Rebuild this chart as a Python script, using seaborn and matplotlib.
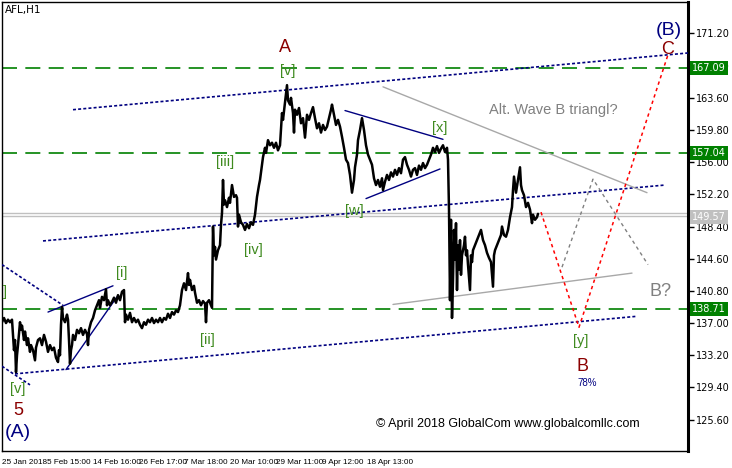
import matplotlib
matplotlib.use("Agg")
import matplotlib.pyplot as plt
import matplotlib.transforms as mtransforms
import pandas as pd
import seaborn as sns

# price path (bar position, close)
bar_x = [2, 4, 6, 8, 10, 12, 13, 14, 15, 16, 17, 18, 20, 21, 22, 24, 25, 27, 28, 30,
         31, 33, 35, 36, 38, 40, 42, 44, 46, 48, 50, 52, 54, 56, 58, 59, 60, 61, 62, 63,
         65, 67, 68, 69, 70, 71, 72, 73, 75, 77, 79, 81, 83, 85, 87, 88, 89, 91, 93, 95,
         97, 99, 100, 102, 104, 106, 107, 108, 110, 112, 114, 116, 118, 120, 122, 124, 125, 126, 128, 130,
         132, 134, 136, 138, 140, 142, 144, 146, 148, 150, 152, 154, 156, 158, 160, 162, 164, 166, 168, 170,
         172, 174, 176, 178, 180, 182, 184, 186, 188, 189, 190, 192, 194, 195, 197, 199, 201, 203, 205, 206,
         207, 209, 211, 212, 213, 214, 215, 216, 218, 220, 221, 222, 223, 224, 225, 227, 229, 230, 232, 234,
         236, 237, 238, 239, 241, 243, 245, 247, 249, 251, 253, 255, 257, 259, 260, 262, 263, 265, 266, 268,
         270, 272, 274, 276, 278, 280, 282, 283, 285, 287, 288, 290, 291, 293, 294, 295, 297, 299, 301, 303,
         305, 307, 309, 311, 313, 315, 317, 319, 321, 323, 325, 327, 329, 331, 332, 334, 336, 338, 340, 342,
         344, 346, 348, 350, 352, 354, 355, 357, 358, 360, 362, 364, 366, 368, 370, 372, 374, 376, 378, 380,
         382, 383, 385, 387, 389, 391, 393, 395, 397, 399, 401, 403, 405, 407, 409, 411, 413, 415, 417, 419,
         421, 423, 425, 427, 429, 431, 433, 435, 437, 439, 441, 443, 445, 447, 448, 449, 450, 451, 452, 453,
         454, 455, 456, 457, 458, 459, 460, 461, 462, 464, 465, 466, 467, 468, 470, 471, 472, 473, 475, 477,
         479, 481, 483, 485, 487, 489, 491, 493, 494, 495, 497, 499, 501, 502, 504, 506, 508, 510, 512, 513,
         514, 516, 518, 520, 521, 522, 524, 526, 528, 530, 532, 533, 535, 537, 538]
close = [137.1, 137.6, 137.0, 137.4, 137.1, 137.4, 135.6, 133.8, 135.0, 131.2, 133.2, 134.4, 137.1, 136.2, 136.7, 135.0, 136.0, 134.4, 135.2, 133.6,
         134.4, 133.8, 132.6, 134.1, 135.0, 135.2, 134.4, 135.6, 134.8, 133.6, 134.4, 133.8, 134.1, 132.9, 132.4, 133.8, 133.2, 136.8, 138.9, 137.6,
         137.1, 138.0, 137.4, 135.0, 132.2, 133.8, 134.4, 135.6, 135.0, 136.2, 135.8, 136.4, 135.6, 136.2, 135.7, 134.4, 136.2, 137.1, 137.6, 138.5,
         139.1, 139.7, 138.8, 140.1, 139.7, 141.0, 139.1, 139.7, 139.1, 139.5, 140.0, 139.4, 140.3, 139.7, 140.7, 140.9, 137.1, 138.0, 137.4, 138.2,
         137.1, 137.6, 137.1, 137.4, 136.8, 136.4, 137.1, 136.8, 137.4, 137.1, 137.6, 137.0, 137.4, 137.1, 137.6, 137.1, 137.6, 137.4, 138.1, 137.6,
         138.3, 138.0, 138.5, 138.3, 139.1, 140.9, 141.7, 140.9, 142.9, 141.5, 142.1, 140.9, 141.4, 140.6, 139.4, 139.7, 139.1, 139.6, 139.3, 137.1,
         139.4, 139.7, 139.1, 138.8, 148.4, 145.0, 146.0, 144.5, 145.6, 146.2, 148.6, 150.0, 153.9, 151.0, 151.5, 150.7, 151.8, 151.2, 153.3, 151.9,
         152.1, 151.8, 148.4, 149.8, 148.9, 148.6, 148.0, 148.7, 148.2, 148.9, 148.6, 149.8, 151.9, 153.3, 153.9, 155.7, 156.6, 157.7, 157.1, 158.6,
         158.0, 158.3, 157.7, 158.3, 157.4, 158.0, 161.8, 161.0, 163.0, 165.1, 163.3, 162.8, 163.6, 161.8, 159.5, 162.2, 161.6, 162.4, 160.6, 161.2,
         158.9, 161.6, 161.0, 161.8, 162.5, 161.2, 160.0, 160.6, 159.5, 160.4, 159.8, 160.2, 161.2, 162.2, 162.8, 161.6, 160.4, 161.0, 160.2, 159.0,
         157.7, 156.3, 155.9, 154.5, 152.4, 153.9, 155.4, 156.9, 158.6, 159.8, 161.2, 159.8, 158.0, 156.9, 156.3, 155.7, 154.1, 153.3, 153.9, 153.1,
         154.1, 152.7, 153.7, 154.5, 153.9, 154.8, 154.3, 155.1, 154.5, 155.3, 154.7, 156.3, 156.6, 155.7, 155.1, 154.3, 155.1, 155.3, 154.5, 155.6,
         155.1, 155.9, 155.3, 155.7, 156.3, 156.9, 157.7, 157.2, 157.9, 157.1, 157.6, 158.0, 157.2, 157.7, 156.3, 150.4, 139.7, 149.2, 137.6, 142.1,
         148.0, 144.5, 148.8, 140.9, 146.2, 143.3, 146.8, 142.7, 145.0, 146.2, 147.2, 145.0, 145.6, 143.9, 140.9, 145.0, 144.2, 145.6, 146.2, 146.8,
         147.4, 148.0, 146.8, 146.2, 145.3, 144.7, 144.2, 141.3, 145.0, 145.6, 146.2, 146.8, 147.4, 148.4, 147.4, 147.2, 148.0, 149.5, 150.7, 152.7,
         154.3, 152.4, 153.9, 155.4, 153.3, 152.7, 152.1, 150.7, 151.2, 150.4, 148.8, 149.8, 149.2, 149.5, 149.9]

# horizontal levels
level_prices = [167.09, 157.04, 138.71]
bid_ask = [150.0, 149.6]
last_price = 149.57

# axis ticks
price_ticks = [171.20, 167.40, 163.60, 159.80, 156.00, 152.20, 148.40,
               144.60, 140.80, 137.00, 133.20, 129.40, 125.60]
time_ticks = [2, 47, 93, 139, 184, 230, 276, 322, 367]
time_labels = ["25 Jan 2018", "5 Feb 15:00", "14 Feb 16:00", "26 Feb 17:00", "7 Mar 18:00",
               "20 Mar 10:00", "29 Mar 11:00", "9 Apr 12:00", "18 Apr 13:00"]

# trend lines: (x list, price list)
channel_upper = ([73, 688], [162.2, 168.9])
channel_mid = ([43, 665], [146.7, 153.3])
channel_low = ([15, 637], [131.0, 137.8])
old_line_a = ([2, 63], [143.9, 139.1])
old_line_b = ([2, 30], [131.9, 129.7])
wedge_top = ([48, 113], [138.3, 141.4])
wedge_bot = ([66, 117], [131.5, 140.1])
tri_top = ([345, 443], [162.1, 158.7])
tri_bot = ([366, 440], [151.7, 155.2])
alt_tri_top = ([383, 647], [164.9, 152.4])
alt_tri_bot = ([393, 632], [139.2, 142.9])
alt_path = ([562, 593, 648], [143.6, 154.0, 143.9])
main_path = ([541, 579, 668], [150.1, 136.5, 168.7])

GREEN = "#008000"
NAVY = "#000080"
DRED = "#8b0000"
WAVE = "#3f8a1f"

sns.set_style("white")
plt.rcParams["font.family"] = ["DejaVu Sans"]

fig = plt.figure(figsize=(7.32, 4.68), dpi=100)
ax = fig.add_axes([2 / 732, 17 / 468, 686 / 732, 449 / 468])

df = pd.DataFrame({"x": bar_x, "price": close})
sns.lineplot(data=df, x="x", y="price", color="black", lw=1.8,
             estimator=None, sort=False, ax=ax, zorder=5)

for p in level_prices:
    ax.axhline(p, color=GREEN, lw=1.2, dashes=(9, 5), zorder=2)
for p in bid_ask:
    ax.axhline(p, color="#c0c0c0", lw=1.0, zorder=1)

dotted = dict(color=NAVY, lw=1.2, dashes=(1.8, 1.3), zorder=3)
for seg in [channel_upper, channel_mid, channel_low, old_line_a, old_line_b]:
    ax.plot(seg[0], seg[1], **dotted)
for seg in [wedge_top, wedge_bot, tri_top, tri_bot]:
    ax.plot(seg[0], seg[1], color=NAVY, lw=1.0, zorder=3)
for seg in [alt_tri_top, alt_tri_bot]:
    ax.plot(seg[0], seg[1], color="#a8a8a8", lw=1.0, zorder=3)
ax.plot(alt_path[0], alt_path[1], color="#808080", lw=1.0, dashes=(2.5, 2.5), zorder=3)
ax.plot(main_path[0], main_path[1], color="red", lw=1.1, dashes=(2.2, 2.2), zorder=4)

# wave labels
lab = dict(ha="center", va="center", family="Liberation Sans")
ax.text(285, 169.5, "A", color=DRED, fontsize=13, **lab)
ax.text(288, 166.8, "[v]", color=WAVE, fontsize=10.5, **lab)
ax.text(225, 156.0, "[iii]", color=WAVE, fontsize=10.5, **lab)
ax.text(253, 145.6, "[iv]", color=WAVE, fontsize=10.5, **lab)
ax.text(207, 135.0, "[ii]", color=WAVE, fontsize=10.5, **lab)
ax.text(122, 142.9, "[i]", color=WAVE, fontsize=10.5, **lab)
ax.text(5, 140.7, "]", color=WAVE, fontsize=10.5, **lab)
ax.text(18, 129.2, "[v]", color=WAVE, fontsize=10.5, **lab)
ax.text(18, 126.7, "5", color=DRED, fontsize=13, **lab)
ax.text(18, 124.1, "(A)", color=NAVY, fontsize=14, **lab)
ax.text(354, 150.2, "[w]", color=WAVE, fontsize=10.5, **lab)
ax.text(440, 160.0, "[x]", color=WAVE, fontsize=10.5, **lab)
ax.text(581, 134.9, "[y]", color=WAVE, fontsize=10.5, **lab)
ax.text(583, 131.9, "B", color=DRED, fontsize=13, **lab)
ax.text(587, 129.9, "78%", color=NAVY, fontsize=7, **lab)
ax.text(661, 140.7, "B?", color="#808080", fontsize=13, **lab)
ax.text(668, 169.3, "C", color=DRED, fontsize=13, **lab)
ax.text(669, 171.6, "(B)", color=NAVY, fontsize=14, **lab)
ax.text(553, 162.2, "Alt. Wave B triangl?", color="#808080", fontsize=10.5, **lab)
ax.text(508, 125.1, "\u00a9 April 2018 GlobalCom www.globalcomllc.com", color="black",
        fontsize=9, **lab)
ax.text(5, 174.0, "AFL,H1", color="black", fontsize=7.5, ha="left", va="center")

ax.set_xlim(2, 688)
ax.set_ylim(121.89, 174.92)

ax.yaxis.tick_right()
ax.set_yticks(price_ticks)
ax.set_yticklabels([f"{t:.2f}" for t in price_ticks])
ax.set_xticks(time_ticks)
ax.set_xticklabels(time_labels, ha="left", family="Liberation Sans", fontsize=5.9)
ax.tick_params(axis="both", direction="out", length=4, width=1, colors="black", pad=1)
ax.tick_params(axis="y", pad=2, labelsize=7)
ax.tick_params(axis="x", pad=2)
for t in ax.get_xticklabels():
    t.set_fontsize(5.9)
ax.set_xlabel("")
ax.set_ylabel("")
for name, sp in ax.spines.items():
    sp.set_visible(True)
    sp.set_color("black")
    sp.set_linewidth(1.0)
ax.spines["right"].set_linewidth(2.2)

# price boxes on the right axis
trans = mtransforms.blended_transform_factory(ax.transAxes, ax.transData)
for p in level_prices:
    ax.text(1.006, p, f"{p:.2f}", transform=trans, color="white", fontsize=7,
            ha="left", va="center", clip_on=False, zorder=10,
            bbox=dict(facecolor=GREEN, edgecolor="none", pad=1.4))
ax.text(1.006, last_price, f"{last_price:.2f}", transform=trans, color="white", fontsize=7,
        ha="left", va="center", clip_on=False, zorder=10,
        bbox=dict(facecolor="#c0c0c0", edgecolor="none", pad=1.4))

fig.savefig("out.png", dpi=100)
